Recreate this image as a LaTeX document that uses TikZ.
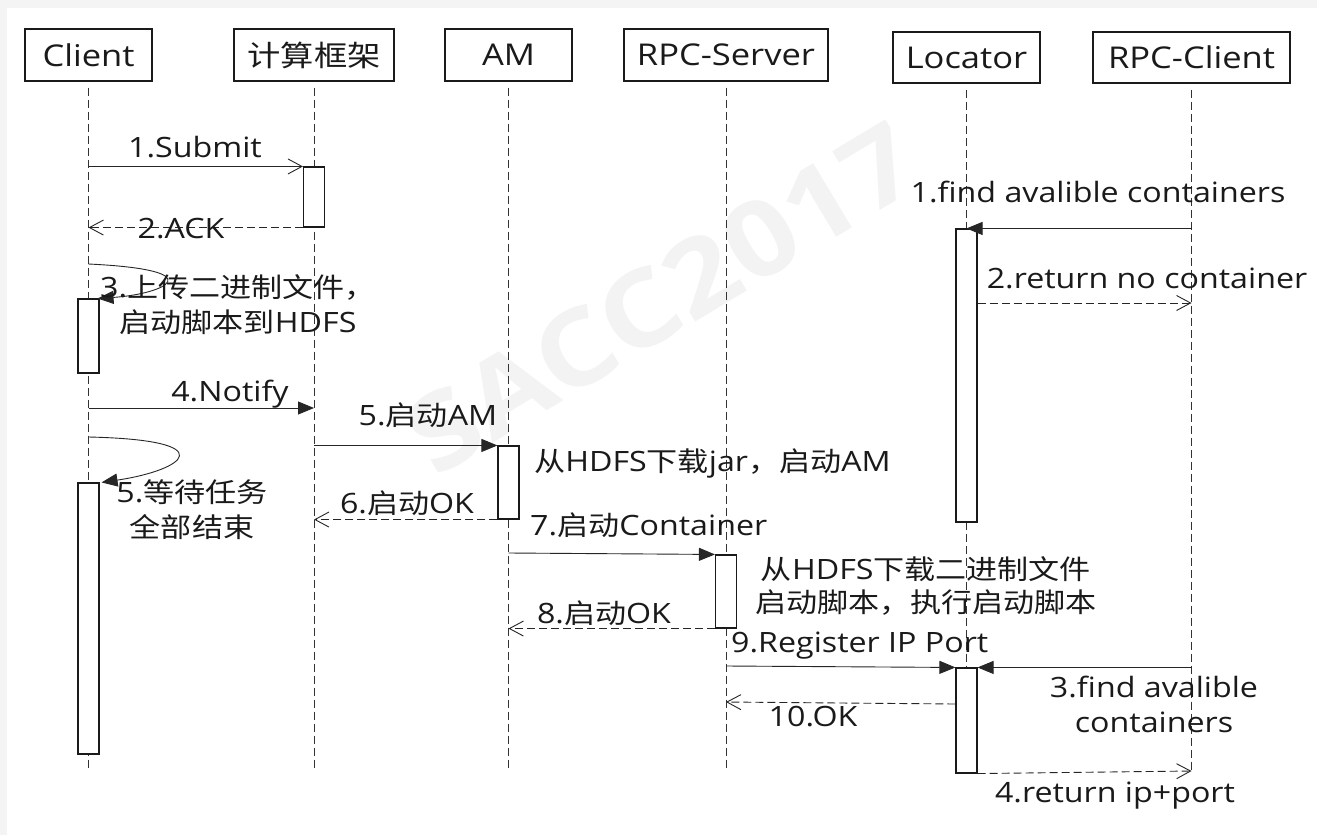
\documentclass[tikz,border=0pt]{standalone}
\usepackage{fontspec}
\setmainfont{Open Sans}[FakeStretch=1.15]
\newfontfamily\zhfont{Noto Sans CJK SC}[FakeStretch=1.15,Scale=0.965]
\newcommand{\zh}[1]{{\zhfont #1}}
\usetikzlibrary{arrows.meta}
\definecolor{bggray}{HTML}{F4F4F4}
\definecolor{wmark}{HTML}{F3F3F3}
\definecolor{ink}{HTML}{1A1A1A}
\begin{document}
\begin{tikzpicture}[x=1pt,y=-1pt,
  every node/.style={inner sep=0pt, text=ink},
  font=\fontsize{28}{35}\selectfont,
  head/.style={draw=ink, line width=1.1pt, minimum height=52pt, font=\fontsize{30}{36}\selectfont},
  life/.style={draw=black!80, line width=0.9pt, dash pattern=on 8pt off 4pt},
  act/.style={draw=ink, fill=white, line width=1.1pt, minimum width=21pt},
  call/.style={draw=black!85, line width=0.9pt, -{Triangle[length=16pt,width=13pt]}},
  callopen/.style={draw=black!85, line width=0.9pt, -{Straight Barb[length=14pt,width=15pt]}},
  ret/.style={draw=black!85, line width=0.9pt, dash pattern=on 8pt off 4pt, -{Straight Barb[length=14pt,width=15pt]}},
  lbl/.style={align=center},
]
\fill[bggray] (0,0) rectangle (1317,835);
\fill[white] (7,8) rectangle (1317,835);
\useasboundingbox (0,0) rectangle (1317,835);

% watermark
\node[text=wmark, font=\fontsize{105}{110}\selectfont\bfseries, rotate=31] (wm) at (662,298) {SACC2017};

% headers
\node[head, minimum width=127pt] (client) at (88.5,55) {Client};
\node[head, minimum width=160pt] (frame) at (314,55) {\zh{计算框架}};
\node[head, minimum width=127pt] (am) at (508.5,55) {AM};
\node[head, minimum width=204pt] (rpcs) at (726,55) {RPC-Server};
\node[head, minimum width=147pt, minimum height=51pt] (loc) at (966.5,57.5) {Locator};
\node[head, minimum width=197pt, minimum height=51pt] (rpcc) at (1191.5,57.5) {RPC-Client};

% lifelines
\foreach \n in {client,frame,am,rpcs,loc,rpcc}{
  \draw[life] ([yshift=-6pt]\n.south) -- (\n |- 0,771);
}

% activations
\node[act, minimum height=60pt]  (a1) at (frame |- 0,197) {};
\node[act, minimum height=74pt]  (a2) at (client |- 0,336) {};
\node[act, minimum height=73pt]  (a3) at (am |- 0,482.5) {};
\node[act, minimum height=271pt] (a4) at (client |- 0,618.5) {};
\node[act, minimum height=73pt]  (a5) at (rpcs |- 0,591.5) {};
\node[act, minimum height=293pt] (a6) at (loc |- 0,375.5) {};
\node[act, minimum height=105pt] (a7) at (loc |- 0,720.5) {};

% messages
\draw[callopen] (client |- a1.north) -- (a1.north west);
\node (l1) at (195,147) {1.Submit};
\draw[ret] (a1.south west) -- (client |- a1.south);
\node (l2) at (181,229) {2.ACK};

\coordinate (s3) at (client |- 0,264);
\draw[call] (s3) .. controls (215,270) and (165,294) .. ([xshift=-2pt]a2.north east);
\node[lbl] (l3) at (238,305) {3.\zh{上传二进制文件，}\\\zh{启动脚本到}HDFS};

\draw[call] (client |- 0,408) -- (frame |- 0,408);
\node (l4) at (230,394) {4.Notify};

\coordinate (s5) at (client |- 0,437);
\draw[call] (s5) .. controls (225,440) and (185,470) .. ([xshift=2pt]a4.north east);
\node[lbl] (l5b) at (192,510) {5.\zh{等待任务}\\\zh{全部结束}};

\draw[call] (frame |- a3.north) -- (a3.north west);
\node (l5) at (428,415) {5.\zh{启动}AM};
\draw[ret] (a3.south west) -- (frame |- a3.south);
\node (l6) at (407,503) {6.\zh{启动}OK};
\node[anchor=west] (n1) at (534,463) {\zh{从}HDFS\zh{下载}jar\zh{，启动}AM};

\draw[call] (am |- 0,553) -- (a5.north west);
\node[anchor=west] (l7) at (530,525) {7.\zh{启动}Container};
\draw[ret] (a5.south west) -- (am |- a5.south);
\node (l8) at (604,613) {8.\zh{启动}OK};
\node[lbl, font=\fontsize{28}{33}\selectfont] (n2) at (926,586) {\zh{从}HDFS\zh{下载二进制文件}\\\zh{启动脚本，执行启动脚本}};

\draw[call] (rpcs |- 0,666) -- (a7.north west);
\node[anchor=west] (l9) at (731,646) {9.Register IP Port};
\draw[ret] (a7.west |- 0,704) -- (rpcs |- 0,702);
\node (l10) at (813,717) {10.OK};

\draw[call] (rpcc |- a6.north) -- (a6.north);
\node (r1) at (1098,192) {1.find avalible containers};
\draw[ret] (a6.east |- 0,303) -- (rpcc |- 0,303);
\node (r2) at (1147,278) {2.return no container};
\draw[call] (rpcc |- a7.north) -- (a7.north east);
\node[lbl] (r3) at (1154,704) {3.find avalible\\containers};
\draw[ret] (a7.south east) -- (rpcc |- 0,771);
\node (r4) at (1115,796) {4.return ip+port};
\end{tikzpicture}
\end{document}
